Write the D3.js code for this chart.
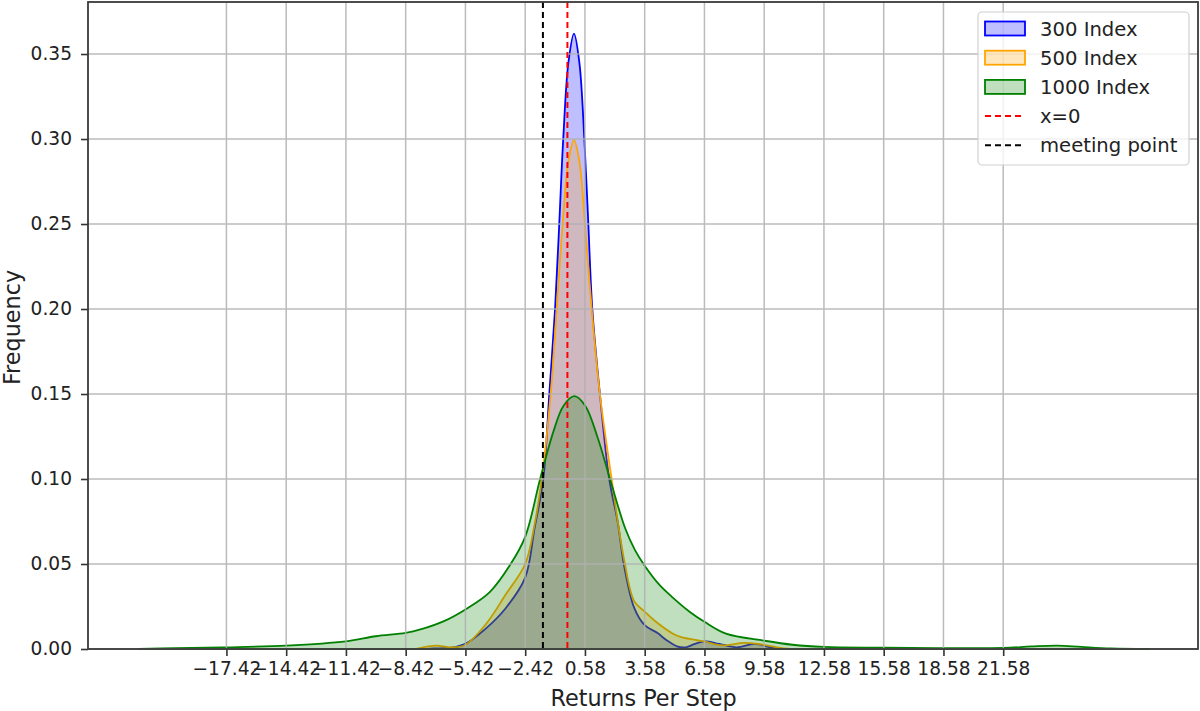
<!DOCTYPE html>
<html>
<head>
<meta charset="utf-8">
<script src="https://cdn.jsdelivr.net/npm/d3@7"></script>
<style>
  html, body { margin: 0; padding: 0; background: #fff; }
  svg { display: block; font-family: "DejaVu Sans", sans-serif; }
</style>
</head>
<body>
<div id="chart"></div>
<script>
// values
const xTicks = [-17.42, -14.42, -11.42, -8.42, -5.42, -2.42, 0.58, 3.58, 6.58, 9.58, 12.58, 15.58, 18.58, 21.58];
const yTicks = [0, 0.05, 0.10, 0.15, 0.20, 0.25, 0.30, 0.35];

const x300 = [-7.4, -7.0, -6.1, -5.42, -4.4, -3.4, -2.42, -1.95, -1.51, -1.21, -0.92, -0.71, -0.51, -0.25, 0.03, 0.3, 0.55, 0.75, 0.95, 1.33, 1.8, 2.22, 2.56, 3.06, 3.58, 4.21, 4.7, 5.2, 5.65, 6.1, 6.6, 7.3, 8.2, 9.1, 10.0, 10.4];
const y300 = [0, 0.0003, 0.0008, 0.003, 0.012, 0.024, 0.042, 0.071, 0.10, 0.15, 0.20, 0.25, 0.30, 0.345, 0.362, 0.345, 0.30, 0.25, 0.20, 0.15, 0.10, 0.075, 0.048, 0.024, 0.014, 0.0095, 0.005, 0.0016, 0.001, 0.003, 0.0045, 0.003, 0.001, 0.003, 0.0006, 0];

const x500 = [-7.9, -7.3, -6.87, -6.1, -5.42, -4.4, -3.4, -2.42, -1.95, -1.59, -1.14, -0.84, -0.54, -0.25, 0.03, 0.3, 0.58, 0.92, 1.33, 1.92, 2.56, 3.06, 3.58, 4.21, 5.0, 5.46, 6.58, 7.48, 8.55, 9.27, 10.3, 10.9];
const y500 = [0, 0.0015, 0.002, 0.001, 0.0025, 0.0145, 0.032, 0.05, 0.073, 0.10, 0.15, 0.20, 0.25, 0.287, 0.2994, 0.287, 0.25, 0.20, 0.15, 0.10, 0.0516, 0.028, 0.022, 0.0154, 0.009, 0.0069, 0.0045, 0.0022, 0.0036, 0.003, 0.0008, 0];

const x1000 = [-21.84, -20, -17.42, -14.42, -11.42, -9.92, -8.42, -7.68, -6.5, -5.42, -4.2, -3.15, -2.42, -1.67, -1.0, -0.5, 0.05, 0.6, 1.2, 1.84, 2.6, 3.1, 3.58, 4.3, 4.92, 5.85, 6.58, 7.66, 9.58, 11.0, 12.58, 15.58, 18.58, 21.58, 23.0, 24.3, 25.5, 27.0, 28.86];
const y1000 = [0, 0.0005, 0.001, 0.002, 0.0045, 0.0075, 0.0095, 0.0115, 0.0164, 0.0233, 0.0335, 0.05, 0.066, 0.10, 0.128, 0.143, 0.1487, 0.143, 0.125, 0.10, 0.071, 0.058, 0.049, 0.038, 0.031, 0.0218, 0.016, 0.009, 0.0049, 0.0025, 0.0012, 0.0008, 0.0005, 0.0006, 0.0015, 0.002, 0.0012, 0.0003, 0];

const seriesNames = ["300 Index", "500 Index", "1000 Index"];
const seriesColors = ["#0000ff", "#ffa500", "#008000"];
const vlineValues = [-0.3, -1.53];          // where the dashed lines sit in the picture
const vlineNames = ["x=0", "meeting point"];
const vlineColors = ["#ff0000", "#000000"];

const W = 1200, H = 711;
const m = { left: 88, right: 1198, top: 2, bottom: 649 };

const svg = d3.select("#chart").append("svg").attr("width", W).attr("height", H);
svg.append("rect").attr("width", W).attr("height", H).attr("fill", "#fff");

const x = d3.scaleLinear().domain([-24.37, 31.36]).range([m.left, m.right]);
const y = d3.scaleLinear().domain([0, 0.3806]).range([m.bottom, m.top]);

const series = [[x300, y300], [x500, y500], [x1000, y1000]].map(([xs, ys], i) => ({
  name: seriesNames[i], color: seriesColors[i],
  pts: xs.map((v, j) => [v, ys[j]])
}));

const area = d3.area()
  .x(d => x(d[0])).y0(y(0)).y1(d => Math.min(y(0), y(d[1])))
  .curve(d3.curveCatmullRom.alpha(0.5));

// kde fills, edge drawn round the whole polygon like seaborn does
series.forEach(s => {
  svg.append("path").datum(s.pts)
    .attr("d", area)
    .attr("fill", s.color).attr("fill-opacity", 0.25)
    .attr("stroke", s.color).attr("stroke-width", 1.8).attr("stroke-linejoin", "round");
});

// grid (matplotlib puts it over the fills)
const grid = svg.append("g").attr("stroke", "#b0b0b0").attr("stroke-width", 1.5).attr("opacity", 0.85);
grid.selectAll(".gx").data(xTicks).join("line")
  .attr("x1", d => x(d)).attr("x2", d => x(d)).attr("y1", m.top).attr("y2", m.bottom);
grid.selectAll(".gy").data(yTicks).join("line")
  .attr("x1", m.left).attr("x2", m.right).attr("y1", d => y(d)).attr("y2", d => y(d));

// dashed verticals
vlineValues.forEach((v, i) => {
  svg.append("line")
    .attr("x1", x(v)).attr("x2", x(v)).attr("y1", m.top).attr("y2", m.bottom)
    .attr("stroke", vlineColors[i]).attr("stroke-width", 2).attr("stroke-dasharray", "6,4");
});

// axes
const fmtX = d => (d < 0 ? "\u2212" + Math.abs(d).toFixed(2) : d.toFixed(2));
const xAxis = svg.append("g").attr("transform", `translate(0,${m.bottom})`)
  .call(d3.axisBottom(x).tickValues(xTicks).tickFormat(fmtX).tickSize(7).tickPadding(6));
const yAxis = svg.append("g").attr("transform", `translate(${m.left},0)`)
  .call(d3.axisLeft(y).tickValues(yTicks).tickFormat(d3.format(".2f")).tickSize(7).tickPadding(9));
[xAxis, yAxis].forEach(g => {
  g.select(".domain").remove();
  g.selectAll(".tick line").attr("stroke", "#333").attr("stroke-width", 1.6);
  g.selectAll(".tick text").attr("fill", "#222").attr("font-size", 18.6).attr("font-family", "DejaVu Sans");
});

svg.append("rect")
  .attr("x", m.left).attr("y", m.top).attr("width", m.right - m.left).attr("height", m.bottom - m.top)
  .attr("fill", "none").attr("stroke", "#3a3a3a").attr("stroke-width", 1.8);

svg.append("text").attr("x", (m.left + m.right) / 2 + 0.5).attr("y", 706)
  .attr("text-anchor", "middle").attr("font-size", 22.3).attr("fill", "#222").text("Returns Per Step");
svg.append("text").attr("transform", `translate(20,${(m.top + m.bottom) / 2 + 2}) rotate(-90)`)
  .attr("text-anchor", "middle").attr("font-size", 22.3).attr("fill", "#222").text("Frequency");

// legend
const lg = svg.append("g");
lg.append("rect").attr("x", 978).attr("y", 12).attr("width", 211).attr("height", 153).attr("rx", 4)
  .attr("fill", "#fff").attr("fill-opacity", 0.8).attr("stroke", "#d0d0d0").attr("stroke-width", 1.2);
const rowY = i => 28.5 + i * 29.2;
series.forEach((s, i) => {
  lg.append("rect").attr("x", 985).attr("y", rowY(i) - 7).attr("width", 40).attr("height", 14)
    .attr("fill", s.color).attr("fill-opacity", 0.25).attr("stroke", s.color).attr("stroke-width", 1.8);
  lg.append("text").attr("x", 1040).attr("y", rowY(i)).attr("dy", "0.36em")
    .attr("font-size", 19.6).attr("fill", "#222").text(s.name);
});
vlineNames.forEach((n, i) => {
  const r = rowY(i + 3);
  lg.append("line").attr("x1", 985).attr("x2", 1025).attr("y1", r).attr("y2", r)
    .attr("stroke", vlineColors[i]).attr("stroke-width", 2).attr("stroke-dasharray", "6,4");
  lg.append("text").attr("x", 1040).attr("y", r).attr("dy", "0.36em")
    .attr("font-size", 19.6).attr("fill", "#222").text(n);
});
</script>
</body>
</html>
